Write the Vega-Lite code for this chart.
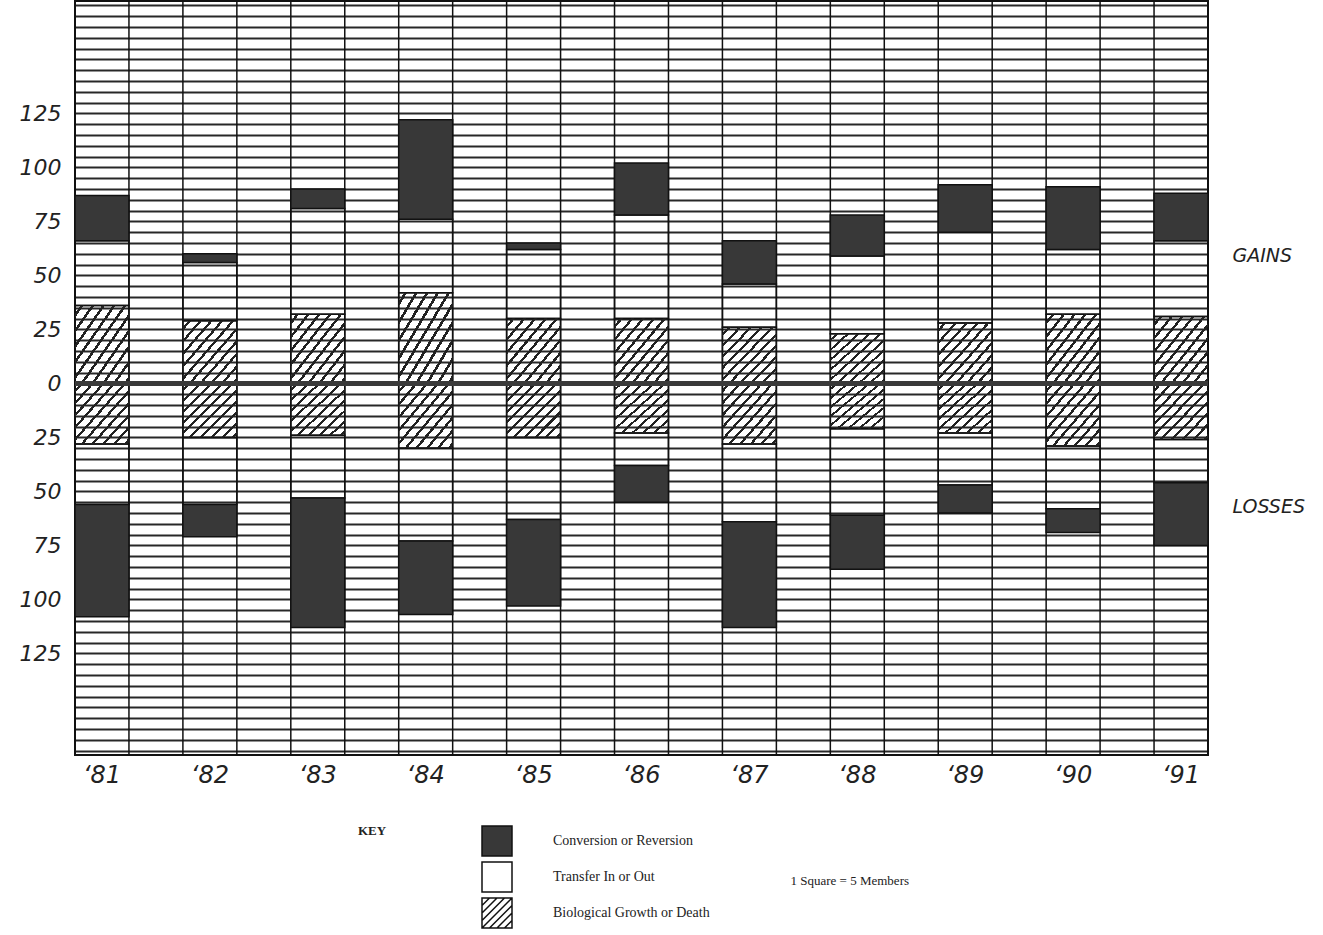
{
  "$schema": "https://vega.github.io/schema/vega-lite/v6.json",
  "width": 1133,
  "height": 754,
  "autosize": "none",
  "padding": {"left": 75, "top": 1, "right": 115, "bottom": 180},
  "background": "white",
  "config": {"view": {"stroke": "#111", "strokeWidth": 2}},
  "resolve": {"axis": {"y": "independent"}},
  "datasets": {
    "years": [{"year": "‘81"}, {"year": "‘82"}, {"year": "‘83"}, {"year": "‘84"}, {"year": "‘85"}, {"year": "‘86"}, {"year": "‘87"}, {"year": "‘88"}, {"year": "‘89"}, {"year": "‘90"}, {"year": "‘91"}],
    "bars": [
      {"year": "‘81", "type": "Biological Growth or Death", "from": 0, "to": 36},
      {"year": "‘81", "type": "Transfer In or Out", "from": 36, "to": 66},
      {"year": "‘81", "type": "Conversion or Reversion", "from": 66, "to": 87},
      {"year": "‘81", "type": "Biological Growth or Death", "from": 0, "to": -28},
      {"year": "‘81", "type": "Transfer In or Out", "from": -28, "to": -56},
      {"year": "‘81", "type": "Conversion or Reversion", "from": -56, "to": -108},
      {"year": "‘82", "type": "Biological Growth or Death", "from": 0, "to": 29},
      {"year": "‘82", "type": "Transfer In or Out", "from": 29, "to": 56},
      {"year": "‘82", "type": "Conversion or Reversion", "from": 56, "to": 60},
      {"year": "‘82", "type": "Biological Growth or Death", "from": 0, "to": -25},
      {"year": "‘82", "type": "Transfer In or Out", "from": -25, "to": -56},
      {"year": "‘82", "type": "Conversion or Reversion", "from": -56, "to": -71},
      {"year": "‘83", "type": "Biological Growth or Death", "from": 0, "to": 32},
      {"year": "‘83", "type": "Transfer In or Out", "from": 32, "to": 81},
      {"year": "‘83", "type": "Conversion or Reversion", "from": 81, "to": 90},
      {"year": "‘83", "type": "Biological Growth or Death", "from": 0, "to": -24},
      {"year": "‘83", "type": "Transfer In or Out", "from": -24, "to": -53},
      {"year": "‘83", "type": "Conversion or Reversion", "from": -53, "to": -113},
      {"year": "‘84", "type": "Biological Growth or Death", "from": 0, "to": 42},
      {"year": "‘84", "type": "Transfer In or Out", "from": 42, "to": 76},
      {"year": "‘84", "type": "Conversion or Reversion", "from": 76, "to": 122},
      {"year": "‘84", "type": "Biological Growth or Death", "from": 0, "to": -30},
      {"year": "‘84", "type": "Transfer In or Out", "from": -30, "to": -73},
      {"year": "‘84", "type": "Conversion or Reversion", "from": -73, "to": -107},
      {"year": "‘85", "type": "Biological Growth or Death", "from": 0, "to": 30},
      {"year": "‘85", "type": "Transfer In or Out", "from": 30, "to": 62},
      {"year": "‘85", "type": "Conversion or Reversion", "from": 62, "to": 65},
      {"year": "‘85", "type": "Biological Growth or Death", "from": 0, "to": -25},
      {"year": "‘85", "type": "Transfer In or Out", "from": -25, "to": -63},
      {"year": "‘85", "type": "Conversion or Reversion", "from": -63, "to": -103},
      {"year": "‘86", "type": "Biological Growth or Death", "from": 0, "to": 30},
      {"year": "‘86", "type": "Transfer In or Out", "from": 30, "to": 78},
      {"year": "‘86", "type": "Conversion or Reversion", "from": 78, "to": 102},
      {"year": "‘86", "type": "Biological Growth or Death", "from": 0, "to": -23},
      {"year": "‘86", "type": "Transfer In or Out", "from": -23, "to": -38},
      {"year": "‘86", "type": "Conversion or Reversion", "from": -38, "to": -55},
      {"year": "‘87", "type": "Biological Growth or Death", "from": 0, "to": 26},
      {"year": "‘87", "type": "Transfer In or Out", "from": 26, "to": 46},
      {"year": "‘87", "type": "Conversion or Reversion", "from": 46, "to": 66},
      {"year": "‘87", "type": "Biological Growth or Death", "from": 0, "to": -28},
      {"year": "‘87", "type": "Transfer In or Out", "from": -28, "to": -64},
      {"year": "‘87", "type": "Conversion or Reversion", "from": -64, "to": -113},
      {"year": "‘88", "type": "Biological Growth or Death", "from": 0, "to": 23},
      {"year": "‘88", "type": "Transfer In or Out", "from": 23, "to": 59},
      {"year": "‘88", "type": "Conversion or Reversion", "from": 59, "to": 78},
      {"year": "‘88", "type": "Biological Growth or Death", "from": 0, "to": -21},
      {"year": "‘88", "type": "Transfer In or Out", "from": -21, "to": -61},
      {"year": "‘88", "type": "Conversion or Reversion", "from": -61, "to": -86},
      {"year": "‘89", "type": "Biological Growth or Death", "from": 0, "to": 28},
      {"year": "‘89", "type": "Transfer In or Out", "from": 28, "to": 70},
      {"year": "‘89", "type": "Conversion or Reversion", "from": 70, "to": 92},
      {"year": "‘89", "type": "Biological Growth or Death", "from": 0, "to": -23},
      {"year": "‘89", "type": "Transfer In or Out", "from": -23, "to": -47},
      {"year": "‘89", "type": "Conversion or Reversion", "from": -47, "to": -60},
      {"year": "‘90", "type": "Biological Growth or Death", "from": 0, "to": 32},
      {"year": "‘90", "type": "Transfer In or Out", "from": 32, "to": 62},
      {"year": "‘90", "type": "Conversion or Reversion", "from": 62, "to": 91},
      {"year": "‘90", "type": "Biological Growth or Death", "from": 0, "to": -29},
      {"year": "‘90", "type": "Transfer In or Out", "from": -29, "to": -58},
      {"year": "‘90", "type": "Conversion or Reversion", "from": -58, "to": -69},
      {"year": "‘91", "type": "Biological Growth or Death", "from": 0, "to": 31},
      {"year": "‘91", "type": "Transfer In or Out", "from": 31, "to": 66},
      {"year": "‘91", "type": "Conversion or Reversion", "from": 66, "to": 88},
      {"year": "‘91", "type": "Biological Growth or Death", "from": 0, "to": -26},
      {"year": "‘91", "type": "Transfer In or Out", "from": -26, "to": -46},
      {"year": "‘91", "type": "Conversion or Reversion", "from": -46, "to": -75}
    ]
  },
  "layer": [
    {
      "data": {"name": "years"},
      "mark": {"type": "rule", "stroke": "#111", "strokeWidth": 1.5},
      "encoding": {
        "x": {"field": "year", "type": "nominal", "bandPosition": 0,
          "scale": {"paddingInner": 0.5, "paddingOuter": 0},
          "axis": {"title": "1 Square = 5 Members", "titleX": 715, "titleY": 125, "titleAlign": "left", "titleBaseline": "middle", "titleFont": "Liberation Serif", "titleFontSize": 13, "titleFontWeight": "normal", "titleColor": "#222", "labelAngle": 0, "labelFont": "DejaVu Sans", "labelFontStyle": "italic", "labelFontSize": 24, "labelColor": "#222", "labelPadding": 8, "ticks": false, "domain": false, "grid": false}}
      }
    },
    {
      "data": {"name": "years"},
      "mark": {"type": "rule", "stroke": "#111", "strokeWidth": 1.5},
      "encoding": {
        "x": {"field": "year", "type": "nominal", "bandPosition": 1,
          "scale": {"paddingInner": 0.5, "paddingOuter": 0},
          "axis": {"title": "1 Square = 5 Members", "titleX": 715, "titleY": 125, "titleAlign": "left", "titleBaseline": "middle", "titleFont": "Liberation Serif", "titleFontSize": 13, "titleFontWeight": "normal", "titleColor": "#222", "labelAngle": 0, "labelFont": "DejaVu Sans", "labelFontStyle": "italic", "labelFontSize": 24, "labelColor": "#222", "labelPadding": 8, "ticks": false, "domain": false, "grid": false}}
      }
    },
    {
      "data": {"name": "bars"},
      "mark": {"type": "bar", "stroke": "#111", "strokeWidth": 1.5, "opacity": 1},
      "encoding": {
        "x": {"field": "year", "type": "nominal",
          "scale": {"paddingInner": 0.5, "paddingOuter": 0},
          "axis": {"title": "1 Square = 5 Members", "titleX": 715, "titleY": 125, "titleAlign": "left", "titleBaseline": "middle", "titleFont": "Liberation Serif", "titleFontSize": 13, "titleFontWeight": "normal", "titleColor": "#222", "labelAngle": 0, "labelFont": "DejaVu Sans", "labelFontStyle": "italic", "labelFontSize": 24, "labelColor": "#222", "labelPadding": 8, "ticks": false, "domain": false, "grid": false}},
        "y": {"field": "from", "type": "quantitative",
          "scale": {"domain": [-172, 177], "nice": false, "zero": false},
          "axis": {"title": null, "orient": "left",
            "values": [-170, -165, -160, -155, -150, -145, -140, -135, -130, -125, -120, -115, -110, -105, -100, -95, -90, -85, -80, -75, -70, -65, -60, -55, -50, -45, -40, -35, -30, -25, -20, -15, -10, -5, 0, 5, 10, 15, 20, 25, 30, 35, 40, 45, 50, 55, 60, 65, 70, 75, 80, 85, 90, 95, 100, 105, 110, 115, 120, 125, 130, 135, 140, 145, 150, 155, 160, 165, 170, 175],
            "labelExpr": "(datum.value % 25 == 0 && abs(datum.value) <= 125) ? ('' + abs(datum.value)) : ''",
            "labelOverlap": false, "labelFlush": false,
            "labelFont": "DejaVu Sans", "labelFontStyle": "italic", "labelFontSize": 22, "labelColor": "#222", "labelPadding": 14,
            "ticks": false, "domain": false, "grid": true, "gridColor": "#111", "gridWidth": 1.9, "gridOpacity": 0.9}},
        "y2": {"field": "to"},
        "fill": {"field": "type", "type": "nominal",
          "scale": {
            "domain": ["Conversion or Reversion", "Transfer In or Out", "Biological Growth or Death"],
            "range": ["#383838", "rgba(255,255,255,0)", "rgba(255,255,255,0)"]},
          "legend": {"orient": "none", "legendX": 283, "legendY": 824, "direction": "vertical",
            "title": "KEY", "titleOrient": "left", "titleAngle": 0, "titleAnchor": "start", "titleBaseline": "top", "titlePadding": 94,
            "titleFont": "Liberation Serif", "titleFontSize": 13, "titleFontWeight": "bold", "titleColor": "#222",
            "symbolType": "square", "symbolSize": 900, "symbolStrokeColor": "#111", "symbolStrokeWidth": 1.5, "symbolOpacity": 1,
            "labelFont": "Liberation Serif", "labelFontSize": 14, "labelColor": "#222", "labelOffset": 40, "rowPadding": 0,
            "encode": {"symbols": {"update": {
              "stroke": {"value": "#111"},
              "strokeWidth": {"value": 1.5},
              "shape": {"signal": "indexof(datum.label + '|' + datum.value, 'Biological') >= 0 ? 'M-1,-1H1V1H-1Z M-1,-0.5L-0.5,-1 M-1,0L0,-1 M-1,0.5L0.5,-1 M-1,1L1,-1 M-0.5,1L1,-0.5 M0,1L1,0 M0.5,1L1,0.5' : 'square'"}
            }}}}}
      }
    },
    {
      "data": {"name": "bars"},
      "transform": [{"filter": "datum.type === 'Biological Growth or Death'"}],
      "mark": {"type": "bar", "strokeWidth": 0,
        "fill": {"gradient": "linear", "x1": 0, "y1": 0, "x2": 1, "y2": 1, "stops": [
          {"offset": 0, "color": "rgba(255,255,255,0)"},
          {"offset": 0.05, "color": "rgba(255,255,255,0)"}, {"offset": 0.05, "color": "#222"}, {"offset": 0.078, "color": "#222"}, {"offset": 0.078, "color": "rgba(255,255,255,0)"},
          {"offset": 0.15, "color": "rgba(255,255,255,0)"}, {"offset": 0.15, "color": "#222"}, {"offset": 0.178, "color": "#222"}, {"offset": 0.178, "color": "rgba(255,255,255,0)"},
          {"offset": 0.25, "color": "rgba(255,255,255,0)"}, {"offset": 0.25, "color": "#222"}, {"offset": 0.278, "color": "#222"}, {"offset": 0.278, "color": "rgba(255,255,255,0)"},
          {"offset": 0.35, "color": "rgba(255,255,255,0)"}, {"offset": 0.35, "color": "#222"}, {"offset": 0.378, "color": "#222"}, {"offset": 0.378, "color": "rgba(255,255,255,0)"},
          {"offset": 0.45, "color": "rgba(255,255,255,0)"}, {"offset": 0.45, "color": "#222"}, {"offset": 0.478, "color": "#222"}, {"offset": 0.478, "color": "rgba(255,255,255,0)"},
          {"offset": 0.55, "color": "rgba(255,255,255,0)"}, {"offset": 0.55, "color": "#222"}, {"offset": 0.578, "color": "#222"}, {"offset": 0.578, "color": "rgba(255,255,255,0)"},
          {"offset": 0.65, "color": "rgba(255,255,255,0)"}, {"offset": 0.65, "color": "#222"}, {"offset": 0.678, "color": "#222"}, {"offset": 0.678, "color": "rgba(255,255,255,0)"},
          {"offset": 0.75, "color": "rgba(255,255,255,0)"}, {"offset": 0.75, "color": "#222"}, {"offset": 0.778, "color": "#222"}, {"offset": 0.778, "color": "rgba(255,255,255,0)"},
          {"offset": 0.85, "color": "rgba(255,255,255,0)"}, {"offset": 0.85, "color": "#222"}, {"offset": 0.878, "color": "#222"}, {"offset": 0.878, "color": "rgba(255,255,255,0)"},
          {"offset": 0.95, "color": "rgba(255,255,255,0)"}, {"offset": 0.95, "color": "#222"}, {"offset": 0.978, "color": "#222"}, {"offset": 0.978, "color": "rgba(255,255,255,0)"},
          {"offset": 1, "color": "rgba(255,255,255,0)"}
        ]}},
      "encoding": {
        "x": {"field": "year", "type": "nominal",
          "scale": {"paddingInner": 0.5, "paddingOuter": 0},
          "axis": {"title": "1 Square = 5 Members", "titleX": 715, "titleY": 125, "titleAlign": "left", "titleBaseline": "middle", "titleFont": "Liberation Serif", "titleFontSize": 13, "titleFontWeight": "normal", "titleColor": "#222", "labelAngle": 0, "labelFont": "DejaVu Sans", "labelFontStyle": "italic", "labelFontSize": 24, "labelColor": "#222", "labelPadding": 8, "ticks": false, "domain": false, "grid": false}},
        "y": {"field": "from", "type": "quantitative",
          "scale": {"domain": [-172, 177], "nice": false, "zero": false}, "axis": null},
        "y2": {"field": "to"}
      }
    },
    {
      "data": {"values": [{}]},
      "mark": {"type": "rule", "stroke": "#3a3a3a", "strokeWidth": 5},
      "encoding": {
        "y": {"datum": 0, "type": "quantitative",
          "scale": {"domain": [-172, 177], "nice": false, "zero": false},
          "axis": {"title": null, "orient": "right", "values": [59, -57],
            "labelExpr": "datum.value > 0 ? 'GAINS' : 'LOSSES'",
            "labelFont": "DejaVu Sans", "labelFontStyle": "italic", "labelFontSize": 19, "labelColor": "#222", "labelPadding": 24, "labelAlign": "left",
            "ticks": false, "domain": false, "grid": false}}
      }
    }
  ]
}
